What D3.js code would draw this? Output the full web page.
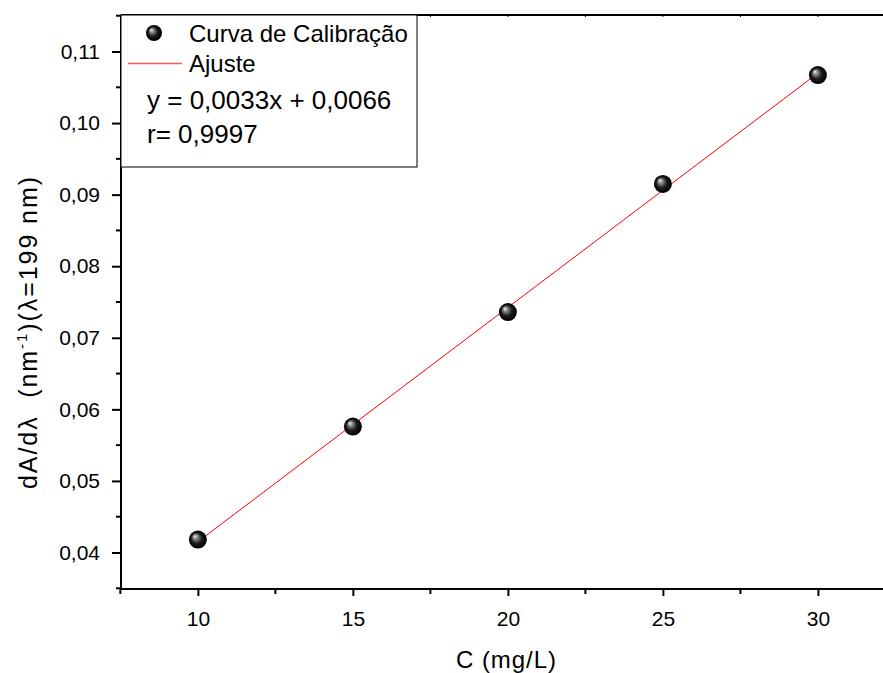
<!DOCTYPE html>
<html>
<head>
<meta charset="utf-8">
<script src="https://cdn.jsdelivr.net/npm/d3@7"></script>
<style>
body { margin: 0; background: #fff; }
text { font-family: "Liberation Sans", Arial, sans-serif; }
</style>
</head>
<body>
<div id="chart"></div>
<script>
var conc = [10, 15, 20, 25, 30];
var deriv = [0.0418, 0.0576, 0.0736, 0.0915, 0.1067];
var xTicks = [10, 15, 20, 25, 30];
var yTicks = [0.04, 0.05, 0.06, 0.07, 0.08, 0.09, 0.10, 0.11];
var legendTexts = ["Curva de Calibração", "Ajuste"];
var eqText = ["y = 0,0033x + 0,0066", "r= 0,9997"];

var w = 883, h = 673;
var pLeft = 121, pTop = 15, pBottom = 589, pRight = 883;

var svg = d3.select("#chart").append("svg")
    .attr("width", w)
    .attr("height", h);

var defs = svg.append("defs");
var grad = defs.append("radialGradient")
    .attr("id", "ball")
    .attr("cx", "50%").attr("cy", "50%").attr("r", "50%")
    .attr("fx", "32%").attr("fy", "30%");
grad.append("stop").attr("offset", "0%").attr("stop-color", "#f4f4f4");
grad.append("stop").attr("offset", "25%").attr("stop-color", "#8a8a8a");
grad.append("stop").attr("offset", "60%").attr("stop-color", "#1a1a1a");
grad.append("stop").attr("offset", "100%").attr("stop-color", "#000");

var x = d3.scaleLinear().domain([7.52, 32.1]).range([pLeft, pRight]);
var y = d3.scaleLinear().domain([0.0349, 0.1151]).range([pBottom, pTop]);

var fmt = function(d) { return d3.format(".2f")(d).replace(".", ","); };

// minor ticks
var xMinor = [7.5, 12.5, 17.5, 22.5, 27.5, 32.5];
var yMinor = [0.035, 0.045, 0.055, 0.065, 0.075, 0.085, 0.095, 0.105, 0.115];

// top frame
svg.append("line")
    .attr("x1", pLeft).attr("x2", pRight)
    .attr("y1", pTop).attr("y2", pTop)
    .attr("stroke", "#000").attr("stroke-width", 2);
svg.selectAll("line.topt")
    .data(xTicks.concat(xMinor))
    .enter().append("line")
    .attr("x1", function(d) { return x(d); })
    .attr("x2", function(d) { return x(d); })
    .attr("y1", pTop).attr("y2", pTop + 2)
    .attr("stroke", "#000").attr("stroke-width", 1);

// x axis
var xAxis = svg.append("g")
    .attr("transform", "translate(0," + pBottom + ")")
    .call(d3.axisBottom(x).tickValues(xTicks).tickSize(7).tickPadding(15).tickFormat(d3.format("d")));
xAxis.select(".domain").attr("stroke-width", 2).attr("d", "M" + pLeft + ",0H" + pRight);
xAxis.selectAll(".tick line").attr("stroke-width", 2);
xAxis.selectAll(".tick text").attr("font-size", 21).attr("fill", "#000");
xAxis.selectAll("line.minor")
    .data(xMinor)
    .enter().append("line")
    .attr("x1", function(d) { return x(d); })
    .attr("x2", function(d) { return x(d); })
    .attr("y1", 0).attr("y2", 5)
    .attr("stroke", "#000").attr("stroke-width", 2);

// y axis
var yAxis = svg.append("g")
    .attr("transform", "translate(" + pLeft + ",0)")
    .call(d3.axisLeft(y).tickValues(yTicks).tickSize(9).tickPadding(12).tickFormat(fmt));
yAxis.select(".domain").attr("stroke-width", 2).attr("d", "M0," + pTop + "V" + pBottom);
yAxis.selectAll(".tick line").attr("stroke-width", 2);
yAxis.selectAll(".tick text").attr("font-size", 21).attr("fill", "#000");
yAxis.selectAll("line.minor")
    .data(yMinor)
    .enter().append("line")
    .attr("x1", 0).attr("x2", -5)
    .attr("y1", function(d) { return y(d); })
    .attr("y2", function(d) { return y(d); })
    .attr("stroke", "#000").attr("stroke-width", 2);

// axis titles
svg.append("text")
    .attr("x", 506).attr("y", 668)
    .attr("text-anchor", "middle")
    .attr("font-size", 24)
    .attr("textLength", 100)
    .text("C (mg/L)");

var yl = svg.append("text")
    .attr("transform", "translate(37,333) rotate(-90)")
    .attr("text-anchor", "middle")
    .attr("font-size", 25)
    .attr("textLength", 312)
    .style("white-space", "pre");
yl.append("tspan").text("dA/dλ  (nm");
yl.append("tspan").attr("dy", -10).attr("font-size", 15).text("-1");
yl.append("tspan").attr("dy", 10).text(")(λ=199 nm)");

// linear fit from data
var mx = d3.mean(conc), my = d3.mean(deriv);
var sxy = d3.sum(conc, function(d, i) { return (d - mx) * (deriv[i] - my); });
var sxx = d3.sum(conc, function(d) { return (d - mx) * (d - mx); });
var slope = sxy / sxx, icpt = my - slope * mx;
var xr = d3.extent(conc);

svg.append("line")
    .attr("x1", x(xr[0])).attr("y1", y(slope * xr[0] + icpt))
    .attr("x2", x(xr[1])).attr("y2", y(slope * xr[1] + icpt))
    .attr("stroke", "#ff0000").attr("stroke-width", 1);

// points
svg.selectAll("circle.pt")
    .data(conc)
    .enter().append("circle")
    .attr("class", "pt")
    .attr("cx", function(d) { return x(d); })
    .attr("cy", function(d, i) { return y(deriv[i]); })
    .attr("r", 9)
    .attr("fill", "url(#ball)");

// legend
var lg = svg.append("g");
lg.append("rect")
    .attr("x", pLeft).attr("y", pTop)
    .attr("width", 296).attr("height", 152)
    .attr("fill", "#fff").attr("stroke", "#000").attr("stroke-width", 1);
lg.append("circle")
    .attr("cx", 154).attr("cy", 33).attr("r", 8)
    .attr("fill", "url(#ball)");
lg.append("line")
    .attr("x1", 128).attr("x2", 182).attr("y1", 63.5).attr("y2", 63.5)
    .attr("stroke", "#ff5555").attr("stroke-width", 1.5);
lg.selectAll("text.lt")
    .data(legendTexts)
    .enter().append("text")
    .attr("x", 189)
    .attr("y", function(d, i) { return 42 + i * 30; })
    .attr("font-size", 24)
    .text(function(d) { return d; });
lg.selectAll("text.eq")
    .data(eqText)
    .enter().append("text")
    .attr("x", 147)
    .attr("y", function(d, i) { return 109 + i * 34; })
    .attr("font-size", 26)
    .text(function(d) { return d; });
</script>
</body>
</html>
